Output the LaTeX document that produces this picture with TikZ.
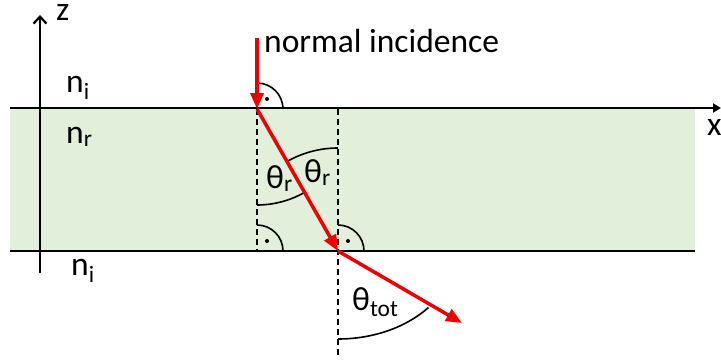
\documentclass[tikz,border=0pt]{standalone}
\usepackage{fontspec}
\setmainfont{Carlito}
\usepackage{tikz}
\usetikzlibrary{arrows.meta,calc}
\usepackage{xcolor}
\definecolor{slabGreen}{HTML}{E2EFDA}
\definecolor{rayRed}{HTML}{F00000}

\begin{document}
\begin{tikzpicture}[x=1pt,y=-1pt,
  every node/.style={font=\fontsize{33.5}{36}\selectfont,inner sep=0pt,anchor=base west},
  ray/.style={rayRed,line width=3.5pt,-{Triangle[length=16pt,width=13pt]}},
  normal/.style={line width=1.5pt,dash pattern=on 6pt off 4pt},
  anglearc/.style={line width=1.6pt},
  axis/.style={line width=2.2pt}]
\useasboundingbox (0,0) rectangle (721,364);
\fill[slabGreen] (10,109) rectangle (695,251);
% points of the ray path
\coordinate (S) at (257,38);
\coordinate (A) at (257,109);
\coordinate (B) at (338,251);
\coordinate (E) at (462,323);
\coordinate (Ab) at (257,251);
\coordinate (Bt) at (338,109);
\coordinate (Bb) at (338,358);
% axes and interfaces
\coordinate (zb) at (40,273);
\coordinate (zt) at (40,15);
\coordinate (xl) at (10,108);
\coordinate (xr) at (721,108);
\coordinate (bl) at (10,251);
\coordinate (br) at (695,251);
\draw[axis,-{Straight Barb[length=7pt,width=13pt]}] (zb) -- (zt);
\draw[axis,-{Triangle[length=8pt,width=9pt]}] (xl) -- (xr);
\draw[axis] (bl) -- (br);
\draw[normal] (A) -- (Ab);
\draw[normal] (Bt) -- (Bb);
% right angles
\draw[anglearc] ($(A)+(26,0)$) arc[start angle=0,end angle=-90,radius=26];
\fill ($(A)+(10,-10)$) circle (2);
\draw[anglearc] ($(Ab)+(26,0)$) arc[start angle=0,end angle=-90,radius=26];
\fill ($(Ab)+(10,-10)$) circle (2);
\draw[anglearc] ($(B)+(26,0)$) arc[start angle=0,end angle=-90,radius=26];
\fill ($(B)+(10,-10)$) circle (2);
% angles
\draw[anglearc] ($(A)+(0,96)$) arc[start angle=90,end angle=60,radius=96];
\draw[anglearc] ($(B)+(0,-103)$) arc[start angle=-90,end angle=-120,radius=103];
\draw[anglearc] ($(B)+(0,88)$) arc[start angle=90,end angle=40,x radius=118,y radius=88];
% rays
\draw[ray] (S) -- (A);
\draw[ray] (A) -- (B);
\draw[ray] (B) -- (E);
% labels
\node (lz) at (56,20) {z};
\node (lx) at (707,135) {x};
\node (inc) at (264,52) {normal incidence};
\node (ni1) at (66,92) {n\textsubscript{i}};
\node (nr) at (66,143) {n\textsubscript{r}};
\node (ni2) at (71,275) {n\textsubscript{i}};
\node (tr1) at (266,188) {θ\textsubscript{r}};
\node (tr2) at (304,182) {θ\textsubscript{r}};
\node (tt) at (352,310) {θ\textsubscript{tot}};
\end{tikzpicture}
\end{document}
